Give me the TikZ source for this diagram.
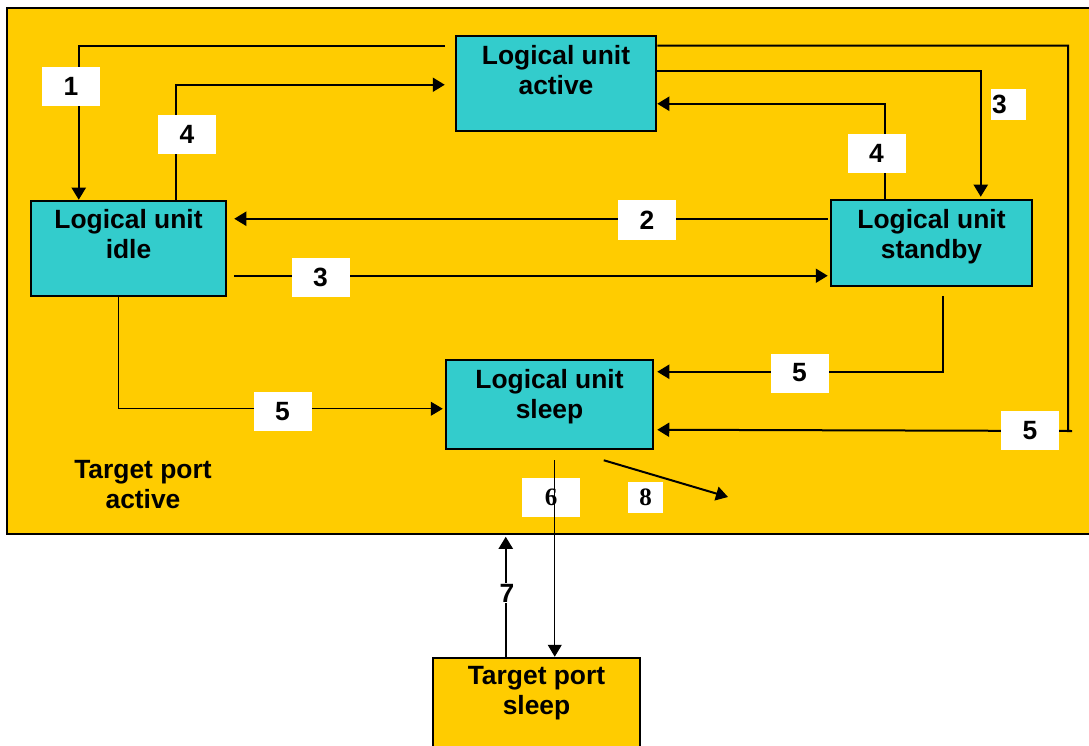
\documentclass[tikz,border=0pt]{standalone}
\usepackage{fontspec}
\setmainfont{Liberation Sans}
\newfontfamily\serifnum{Liberation Serif}
\usetikzlibrary{arrows.meta,calc}
\definecolor{portyellow}{HTML}{FFCC00}
\definecolor{luteal}{HTML}{33CCCC}
\tikzset{
  lubox/.style={draw=black, line width=2.5pt, fill=luteal, inner sep=0pt},
  portbox/.style={draw=black, line width=2.5pt, fill=portyellow, inner sep=0pt},
  txt/.style={font=\fontsize{26.4}{30}\selectfont\bfseries, align=center, inner sep=0pt, anchor=north},
  lbl/.style={fill=white, inner sep=0pt, minimum width=58pt, minimum height=39pt, font=\fontsize{26.4}{30}\selectfont\bfseries},
  slbl/.style={fill=white, inner sep=0pt, minimum width=35pt, minimum height=31pt, font=\fontsize{25}{28}\selectfont\serifnum\bfseries},
  conn/.style={draw=black, line width=2pt, -{Triangle[length=12pt,width=14pt]}},
  thin/.style={draw=black, line width=1pt, -{Triangle[length=12pt,width=14pt]}},
}
\begin{document}
\begin{tikzpicture}[x=1pt, y=-1pt]
\useasboundingbox (0,0) rectangle (1089,746);
\fill[white] (0,0) rectangle (1089,746);
% outer region
\node[draw=black, line width=1.5pt, fill=portyellow, minimum width=1088pt, minimum height=526pt, inner sep=0pt] (port) at (551,271) {};
\node[txt] (porttxt) at (143,460) {Target port\\active};
% boxes
\node[lubox, minimum width=200pt, minimum height=95pt] (active) at (556,83.5) {};
\node[lubox, minimum width=195pt, minimum height=95pt] (idle) at (128.5,248.5) {};
\node[lubox, minimum width=201pt, minimum height=86pt] (standby) at (931.5,243) {};
\node[lubox, minimum width=207pt, minimum height=89pt] (sleep) at (549.5,404.5) {};
\node[portbox, minimum width=207pt, minimum height=102pt] (tps) at (536.5,709) {};
\node[txt] (activet) at ([yshift=-10pt]active.north) {Logical unit\\active};
\node[txt] (idlet) at ([yshift=-9pt]idle.north) {Logical unit\\idle};
\node[txt] (standbyt) at ([yshift=-10pt]standby.north) {Logical unit\\standby};
\node[txt] (sleept) at ([yshift=-10pt]sleep.north) {Logical unit\\sleep};
\node[txt] (tpst) at ([yshift=-9pt]tps.north) {Target port\\sleep};
% connectors
\draw[conn] ($(active.north west)+(-10,11)$) -| ([xshift=49pt]idle.north west);
\draw[conn] ($(standby.north west)+(-2,20)$) -- ($(idle.north east)+(7,19)$);
\draw[conn] ($(idle.north east)+(7,76)$) -- ($(standby.north west)+(-2,77)$);
\draw[conn] ($(idle.north west)+(146,0)$) |- ($(active.north west)+(-10,50)$);
\coordinate (c5) at (1068,431);
\draw[conn] ($(active.north east)+(0,11)$) -| (c5) -- ++(4,0) -- ($(sleep.north east)+(3,71)$);
\draw[conn] ($(active.north east)+(0,36)$) -| ($(standby.north west)+(151,-2)$);
\draw[conn] ($(standby.north west)+(55,0)$) |- ($(active.north east)+(0,69)$);
\draw[conn] ($(standby.south west)+(113,9)$) |- ($(sleep.north east)+(3,13)$);
\draw[thin] ($(idle.south west)+(89,0)$) |- ($(sleep.north west)+(-2,50)$);
\coordinate (c8) at (728,497);
\draw[conn] ($(sleep.south west)+(159,10)$) -- (c8);
\coordinate (p7) at ($(tps.north west)+(74,0)$);
\draw[conn] (p7) -- ([yshift=-2pt]p7 |- port.south);
% labels
\node[lbl] (l1) at (71,86.5) {1};
\node[lbl] (l4a) at (187,134.5) {4};
\node[lbl, minimum width=35pt, minimum height=31pt] (l3a) at (1008.5,104.5) {\makebox[35pt][l]{\hspace{1pt}3}};
\node[lbl] (l4b) at (876.5,153.5) {4};
\node[lbl] (l2) at (647,220) {2};
\node[lbl] (l3b) at (320.5,277.5) {3};
\node[lbl] (l5a) at (799.5,373) {5};
\node[lbl] (l5b) at (282.5,411.5) {5};
\node[lbl] (l5c) at (1030,430.5) {5};
\node[slbl, minimum width=58pt, minimum height=39pt] (l6) at (551,497.5) {6};
\node[slbl] (l8) at (645.5,497.5) {8};
\node[fill=white, inner sep=1pt, font=\fontsize{26.4}{30}\selectfont\bfseries] (l7) at (507,593) {7};
% line 6 drawn over its label
\draw[thin] ($(sleep.south west)+(110,10)$) -- ($(tps.north west)+(123,0)$);
\end{tikzpicture}
\end{document}
